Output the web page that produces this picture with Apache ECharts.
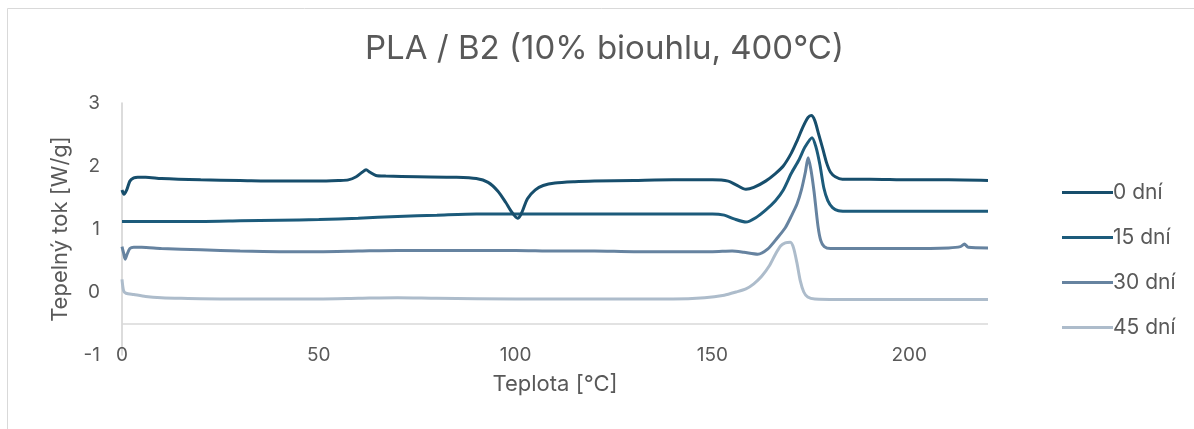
<!DOCTYPE html>
<html>
<head>
<meta charset="utf-8">
<title>PLA / B2 DSC</title>
<script src="https://cdn.jsdelivr.net/npm/echarts@6/dist/echarts.min.js"></script>
<style>
  html, body { margin: 0; padding: 0; background: #ffffff; }
  #chart { width: 1194px; height: 429px; }
</style>
</head>
<body>
<div id="chart"></div>
<script>
// DSC heat-flow curves: [temperature °C, heat flow W/g]
const seriesNames = ['0 dní', '15 dní', '30 dní', '45 dní'];

const flow0 = [
  [0,1.62],[0.5,1.55],[1.2,1.62],[2,1.76],[3,1.81],[4,1.82],[6,1.82],[10,1.80],[20,1.78],[30,1.77],
  [40,1.76],[50,1.76],[55,1.77],[57.5,1.78],[59.5,1.83],[61,1.9],[62,1.94],[63,1.9],[64.5,1.85],[67,1.84],
  [75,1.83],[85,1.82],[90,1.80],[93,1.74],[95.5,1.6],[97.5,1.42],[99,1.27],[100.5,1.17],[101.5,1.25],[103,1.48],
  [105,1.62],[107,1.69],[110,1.73],[115,1.75],[120,1.76],[130,1.77],[140,1.78],[150,1.78],[154,1.76],[156,1.7],
  [158.5,1.63],[160.5,1.66],[163.5,1.76],[166,1.88],[168,2.0],[170,2.2],[171.5,2.4],[173,2.62],[174.3,2.77],[175.1,2.80],
  [176,2.72],[177,2.5],[178,2.28],[179,2.05],[180,1.9],[181.2,1.83],[183,1.79],[190,1.79],[200,1.78],[210,1.78],[220,1.77]
];

const flow15 = [
  [0,1.12],[10,1.12],[20,1.12],[30,1.13],[40,1.14],[50,1.15],[60,1.17],[70,1.2],[80,1.22],[90,1.24],
  [100,1.24],[110,1.24],[120,1.24],[130,1.24],[140,1.24],[150,1.24],[153,1.22],[155.5,1.16],[158.5,1.11],[161,1.18],
  [163.5,1.30],[166,1.45],[168,1.62],[170,1.88],[172,2.1],[173.5,2.3],[175.3,2.45],[176.3,2.3],[177.3,2.02],[178.3,1.65],
  [179.3,1.45],[180.5,1.34],[182,1.29],[185,1.28],[200,1.28],[220,1.28]
];

const flow30 = [
  [0,0.72],[0.4,0.62],[0.8,0.52],[1.3,0.6],[2,0.69],[3,0.71],[5,0.71],[10,0.69],[20,0.67],[30,0.65],
  [40,0.64],[50,0.64],[60,0.65],[70,0.66],[80,0.66],[90,0.66],[100,0.66],[110,0.65],[120,0.65],[130,0.64],
  [140,0.64],[150,0.64],[155,0.65],[158,0.63],[161.5,0.6],[164,0.68],[166.5,0.86],[168.5,1.02],[170,1.2],[171.5,1.4],
  [172.6,1.62],[173.6,1.9],[174.3,2.13],[175,1.95],[175.8,1.6],[176.8,1.05],[177.5,0.82],[178.4,0.72],[180,0.69],[190,0.69],
  [200,0.69],[210,0.7],[213,0.72],[214,0.76],[215,0.71],[220,0.7]
];

const flow45 = [
  [0,0.2],[0.4,0.02],[1,-0.02],[3,-0.04],[6,-0.07],[10,-0.09],[15,-0.1],[25,-0.11],[40,-0.11],[50,-0.11],
  [60,-0.1],[70,-0.09],[80,-0.1],[100,-0.11],[120,-0.11],[140,-0.11],[148,-0.09],[153,-0.05],[156,0.0],[158.5,0.05],
  [160.5,0.13],[162.5,0.25],[164.5,0.42],[166,0.6],[167.3,0.73],[168.5,0.78],[169.8,0.79],[170.6,0.7],[171.5,0.45],[172.3,0.18],
  [173.2,0.0],[174.2,-0.08],[176,-0.11],[190,-0.12],[200,-0.12],[220,-0.12]
];

const curves = [flow0, flow15, flow30, flow45];
const colors = ['#174e6c', '#1c5b7b', '#6683a0', '#adbccb'];

const textGray = '#595959';
const fontFamily = 'Inter, "Open Sans", sans-serif';

const chart = echarts.init(document.getElementById('chart'), null, { renderer: 'canvas' });

const series = curves.map((data, i) => ({
  name: seriesNames[i],
  type: 'line',
  data: data,
  smooth: 0.25,
  showSymbol: false,
  symbol: 'none',
  lineStyle: { width: 3, color: colors[i] },
  itemStyle: { color: colors[i] },
  z: 10 - i
}));

// horizontal axis line crossing the value axis at -0.5
series[0].markLine = {
  silent: true,
  symbol: 'none',
  label: { show: false },
  lineStyle: { color: '#d9d9d9', width: 1.5, type: 'solid' },
  data: [{ yAxis: -0.5 }],
  z: 1
};

chart.setOption({
  animation: false,
  backgroundColor: '#ffffff',
  textStyle: { fontFamily: fontFamily },
  graphic: [{
    type: 'rect',
    shape: { x: 7.5, y: 8.5, width: 1300, height: 600 },
    style: { fill: 'none', stroke: '#d9d9d9', lineWidth: 1 },
    silent: true
  }],
  title: {
    text: 'PLA / B2 (10% biouhlu, 400°C)',
    left: 365,
    top: 33,
    padding: 0,
    textStyle: { fontSize: 33, fontWeight: 'normal', color: textGray, fontFamily: fontFamily }
  },
  legend: {
    orient: 'vertical',
    left: 1057,
    top: 177,
    icon: 'rect',
    itemWidth: 51,
    itemHeight: 3,
    itemGap: 24,
    data: seriesNames,
    textStyle: { fontSize: 21, color: textGray, fontFamily: fontFamily, padding: [0, 0, 0, -5] }
  },
  grid: { left: 122, right: 206, top: 103, bottom: 74, containLabel: false },
  xAxis: {
    type: 'value',
    min: 0,
    max: 220,
    interval: 50,
    name: 'Teplota [°C]',
    nameLocation: 'middle',
    nameGap: 18,
    nameTextStyle: { fontSize: 22, color: textGray, fontFamily: fontFamily, verticalAlign: 'top' },
    axisLine: { show: false },
    axisTick: { show: false },
    splitLine: { show: false },
    axisLabel: { fontSize: 19, color: textGray, margin: 0, verticalAlign: 'middle', showMaxLabel: false }
  },
  yAxis: {
    type: 'value',
    min: -1,
    max: 3,
    interval: 1,
    name: 'Tepelný tok [W/g]',
    nameLocation: 'middle',
    nameGap: 51,
    nameTextStyle: { fontSize: 22, color: textGray, fontFamily: fontFamily },
    axisLine: { show: true, lineStyle: { color: '#d0d0d0', width: 1.5 } },
    axisTick: { show: false },
    splitLine: { show: false },
    axisLabel: { fontSize: 19, color: textGray, margin: 22 }
  },
  series: series
});
</script>
</body>
</html>
